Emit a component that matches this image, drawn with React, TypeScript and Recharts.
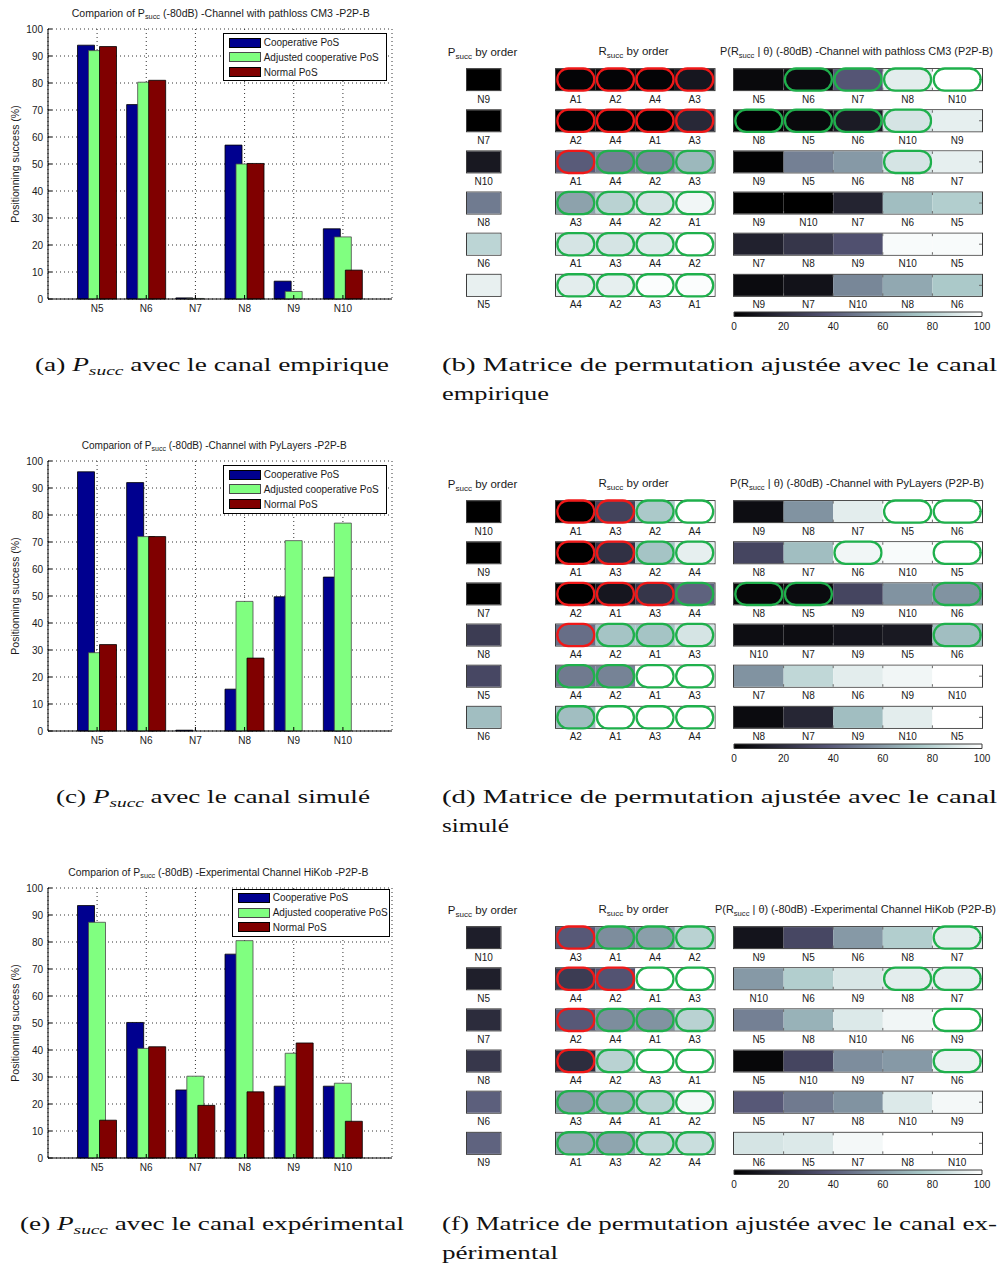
import React from 'react';
import { BarChart, Bar, XAxis, YAxis, CartesianGrid, Legend } from 'recharts';

// ---------------- data ----------------
const NODES = ['N5', 'N6', 'N7', 'N8', 'N9', 'N10'];
const SERIES_NAMES = ['Cooperative PoS', 'Adjusted cooperative PoS', 'Normal PoS'];
const Y_TICKS = [0, 10, 20, 30, 40, 50, 60, 70, 80, 90, 100];
const CB_TICKS = [0, 20, 40, 60, 80, 100];

// (a) empirical channel
const A_COOP = [94, 72, 0.4, 57, 6.6, 26];
const A_ADJ = [92, 80.3, 0.2, 50, 2.8, 23];
const A_NORMAL = [93.5, 81, 0, 50.2, 0, 10.7];
// (c) simulated channel
const C_COOP = [96, 92, 0.3, 15.5, 49.7, 57];
const C_ADJ = [29, 72, 0, 48, 70.5, 77];
const C_NORMAL = [32, 72, 0, 27, 0, 0];
// (e) experimental channel
const E_COOP = [93.5, 50.2, 25.2, 75.5, 26.6, 26.6];
const E_ADJ = [87.3, 40.6, 30.3, 80.5, 38.8, 27.7];
const E_NORMAL = [14, 41.2, 19.5, 24.5, 42.6, 13.6];

const BAR_TITLES = ['-Channel with pathloss CM3 -P2P-B', '-Channel with PyLayers -P2P-B', '-Experimental Channel HiKob -P2P-B'];
const MATRIX_TITLES = ['-Channel with pathloss CM3 (P2P-B)', '-Channel with PyLayers (P2P-B)', '-Experimental Channel HiKob (P2P-B)'];

// (b) permutation matrix, empirical
const B_P_LABELS = ['N9', 'N7', 'N10', 'N8', 'N6', 'N5'];
const B_P_VALUES = [0, 0, 10.7, 50.2, 81, 93.5];
const B_R_LABELS = [['A1', 'A2', 'A4', 'A3'], ['A2', 'A4', 'A1', 'A3'], ['A1', 'A4', 'A2', 'A3'], ['A3', 'A4', 'A2', 'A1'], ['A1', 'A3', 'A4', 'A2'], ['A4', 'A2', 'A3', 'A1']];
const B_R_VALUES = [[2, 2, 2, 10], [1, 1, 1, 18], [40, 52, 55, 70], [63, 80, 88, 96], [88, 88, 91, 100], [92, 93, 99, 99]];
const B_R_MARKS = ['rrrr', 'rrrr', 'rggg', 'gggg', 'gggg', 'gggg'];
const B_T_LABELS = [['N5', 'N6', 'N7', 'N8', 'N10'], ['N8', 'N5', 'N6', 'N10', 'N9'], ['N9', 'N5', 'N6', 'N8', 'N7'], ['N9', 'N10', 'N7', 'N6', 'N5'], ['N7', 'N8', 'N9', 'N10', 'N5'], ['N9', 'N7', 'N10', 'N8', 'N6']];
const B_T_VALUES = [[4, 5, 38, 92, 100], [1, 4, 12, 88, 93], [1, 52, 60, 88, 93], [0, 0, 16, 72, 78], [15, 24, 36, 98, 98], [5, 8, 54, 65, 76]];
const B_T_MARKS = ['.gggg', 'gggg.', '...g.', '.....', '.....', '.....'];

// (d) permutation matrix, simulated
const D_P_LABELS = ['N10', 'N9', 'N7', 'N8', 'N5', 'N6'];
const D_P_VALUES = [0, 0, 0, 27, 32, 72];
const D_R_LABELS = [['A1', 'A3', 'A2', 'A4'], ['A1', 'A3', 'A2', 'A4'], ['A2', 'A1', 'A3', 'A4'], ['A4', 'A2', 'A1', 'A3'], ['A4', 'A2', 'A1', 'A3'], ['A2', 'A1', 'A3', 'A4']];
const D_R_VALUES = [[0, 30, 76, 100], [0, 22, 74, 93], [0, 10, 24, 42], [46, 74, 74, 88], [50, 53, 100, 100], [72, 100, 100, 100]];
const D_R_MARKS = ['rrgg', 'rrgg', 'rrrg', 'rggg', 'gggg', 'gggg'];
const D_T_LABELS = [['N9', 'N8', 'N7', 'N5', 'N6'], ['N8', 'N7', 'N6', 'N10', 'N5'], ['N8', 'N5', 'N9', 'N10', 'N6'], ['N10', 'N7', 'N9', 'N5', 'N6'], ['N7', 'N8', 'N6', 'N9', 'N10'], ['N8', 'N7', 'N9', 'N10', 'N5']];
const D_T_VALUES = [[6, 58, 92, 100, 100], [31, 72, 96, 98, 100], [3, 5, 31, 58, 58], [6, 6, 9, 11, 72], [58, 82, 92, 96, 100], [5, 17, 72, 92, 100]];
const D_T_MARKS = ['...gg', '..g.g', 'gg..g', '....g', '.....', '.....'];

// (f) permutation matrix, experimental
const F_P_LABELS = ['N10', 'N5', 'N7', 'N8', 'N6', 'N9'];
const F_P_VALUES = [13.6, 14, 19.5, 24.5, 41.2, 42.6];
const F_R_LABELS = [['A3', 'A1', 'A4', 'A2'], ['A4', 'A2', 'A1', 'A3'], ['A2', 'A4', 'A1', 'A3'], ['A4', 'A2', 'A3', 'A1'], ['A3', 'A4', 'A1', 'A2'], ['A1', 'A3', 'A2', 'A4']];
const F_R_VALUES = [[39, 56, 62, 80], [27, 37, 100, 100], [39, 56, 58, 80], [20, 80, 100, 100], [62, 68, 80, 97], [66, 64, 82, 85]];
const F_R_MARKS = ['rggg', 'rrgg', 'rggg', 'rggg', 'gggg', 'gggg'];
const F_T_LABELS = [['N9', 'N5', 'N6', 'N8', 'N7'], ['N10', 'N6', 'N9', 'N8', 'N7'], ['N5', 'N8', 'N10', 'N6', 'N9'], ['N5', 'N10', 'N9', 'N7', 'N6'], ['N5', 'N7', 'N8', 'N10', 'N9'], ['N6', 'N5', 'N7', 'N8', 'N10']];
const F_T_VALUES = [[9, 32, 60, 78, 92], [60, 78, 89, 92, 93], [52, 68, 90, 96, 100], [3, 31, 56, 60, 94], [39, 50, 58, 90, 97], [88, 90, 97, 100, 100]];
const F_T_MARKS = ['....g', '...gg', '....g', '....g', '.....', '.....'];

// ---------------- styles ----------------
const FONT = '"Liberation Sans", Arial, Helvetica, sans-serif';
const SERIF = '"Liberation Serif", "Times New Roman", serif';
const TXT = '#1a1a1a';
const SERIES_COLORS = ['#00008f', '#80ff80', '#800000'];
const SERIES_STROKES = ['#000000', '#4a4a4a', '#000000'];
const RED = '#f01818';
const GREEN = '#1fb04c';

function bone(v: number): string {
  const x = Math.max(0, Math.min(1, v / 100));
  const hr = Math.min(1, x / 0.375);
  const hg = x < 0.375 ? 0 : Math.min(1, (x - 0.375) / 0.375);
  const hb = x < 0.75 ? 0 : (x - 0.75) / 0.25;
  const r = (7 * x + hb) / 8;
  const g = (7 * x + hg) / 8;
  const b = (7 * x + hr) / 8;
  return `rgb(${Math.round(r * 255)},${Math.round(g * 255)},${Math.round(b * 255)})`;
}

// ---------------- bar chart ----------------
function LegendBox() {
  return (
    <div style={{ boxSizing: 'border-box', width: '100%', height: '100%', border: '1px solid #000', background: '#fff', padding: '1px 0 0 5px', fontFamily: FONT, fontSize: 10, color: TXT }}>
      {SERIES_NAMES.map((n, i) => (
        <div key={n} style={{ display: 'flex', alignItems: 'center', height: 14.7 }}>
          <span style={{ display: 'inline-block', boxSizing: 'border-box', width: 32, height: 10, background: SERIES_COLORS[i], border: `1px solid ${SERIES_STROKES[i]}`, marginRight: 3 }} />
          <span style={{ lineHeight: '11px', whiteSpace: 'nowrap' }}>{n}</span>
        </div>
      ))}
    </div>
  );
}

function PsuccChart(props: { top: number; coop: number[]; adj: number[]; normal: number[]; legend: { left: number; top: number; width: number; height: number } }) {
  const { top, coop, adj, normal, legend } = props;
  const data = NODES.map((n, i) => ({ name: n, coop: coop[i], adj: adj[i], normal: normal[i] }));
  const tickStyle = { fontSize: 10, fill: TXT, fontFamily: FONT };
  return (
    <div style={{ position: 'absolute', left: 0, top }}>
      <BarChart width={400} height={320} data={data} margin={{ top: 29, right: 8, bottom: 1, left: 0 }} barGap={-6}>
        <CartesianGrid stroke="#333" strokeDasharray="1 3" />
        <XAxis dataKey="name" padding={{ left: 24.5, right: 24.5 }} interval={0} height={20}
          tickLine={{ stroke: '#000' }} tickSize={-4} tickMargin={10} axisLine={{ stroke: '#000' }} tick={tickStyle} />
        <XAxis xAxisId="top" orientation="top" dataKey="name" padding={{ left: 24.5, right: 24.5 }} interval={0} height={0}
          tick={false} tickLine={{ stroke: '#000' }} tickSize={-4} axisLine={{ stroke: '#000' }} />
        <YAxis domain={[0, 100]} ticks={Y_TICKS} interval={0} width={48} tickLine={{ stroke: '#000' }} tickSize={-4} tickMargin={9}
          axisLine={{ stroke: '#000' }} tick={tickStyle}
          label={{ value: 'Positionning success (%)', angle: -90, position: 'insideLeft', offset: 15, style: { textAnchor: 'middle', fontSize: 10.5, fill: TXT, fontFamily: FONT } }} />
        <YAxis yAxisId="right" orientation="right" domain={[0, 100]} ticks={Y_TICKS} interval={0} width={0} tick={false}
          tickLine={{ stroke: '#000' }} tickSize={-4} axisLine={{ stroke: '#000' }} />
        <Bar dataKey="coop" name={SERIES_NAMES[0]} fill={SERIES_COLORS[0]} stroke={SERIES_STROKES[0]} strokeWidth={0.8} barSize={17} isAnimationActive={false} />
        <Bar dataKey="adj" name={SERIES_NAMES[1]} fill={SERIES_COLORS[1]} stroke={SERIES_STROKES[1]} strokeWidth={0.8} barSize={17} isAnimationActive={false} />
        <Bar dataKey="normal" name={SERIES_NAMES[2]} fill={SERIES_COLORS[2]} stroke={SERIES_STROKES[2]} strokeWidth={0.8} barSize={17} isAnimationActive={false} />
        <Legend layout="vertical" align="center" verticalAlign="middle" content={() => <LegendBox />}
          wrapperStyle={{ left: legend.left, top: legend.top, width: legend.width, height: legend.height }} />
      </BarChart>
    </div>
  );
}

// ---------------- matrix strips ----------------
const ROW_PITCH = 41.15;
const CELL_H = 21;
const PLOT_TOP = 59.1;
const STRIP_H = 320;

function CellShape(props: any) {
  const { x, y, width, height, j, n, labels, values, marks, ticks } = props;
  const i = props.payload && props.payload.row !== undefined ? props.payload.row : props.index;
  const mark = marks[i] ? marks[i][j] : '.';
  const col = mark === 'r' ? RED : mark === 'g' ? GREEN : null;
  const tk = '#6a6a6a';
  return (
    <g>
      {j === 0 && (
        <rect x={x - 0.5} y={y - 0.5} width={width * n + 1} height={height + 1} fill="none" stroke="#3c3c3c" strokeWidth={1} />
      )}
      <rect x={x} y={y} width={width} height={height} fill={bone(values[i][j])} />
      {ticks && j > 0 && <line x1={x} x2={x} y1={y} y2={y + 2.5} stroke={tk} />}
      {ticks && j > 0 && <line x1={x} x2={x} y1={y + height - 2.5} y2={y + height} stroke={tk} />}
      {ticks && j === n - 1 && <line x1={x + width - 3} x2={x + width} y1={y + height / 2} y2={y + height / 2} stroke={tk} />}
      {col && (
        <rect x={x + 1.3} y={y - 0.6} width={width - 2.6} height={height + 1.2} rx={(height + 1.2) / 2} ry={(height + 1.2) / 2}
          fill="none" stroke={col} strokeWidth={2.3} />
      )}
      <text x={x + width / 2} y={y + height + 12.5} textAnchor="middle" fontSize={10} fill={TXT} fontFamily={FONT}>{labels[i][j]}</text>
    </g>
  );
}

function Strip(props: { left: number; width: number; top: number; labels: string[][]; values: number[][]; marks: string[]; ticks?: boolean }) {
  const { left, width, top, labels, values, marks, ticks } = props;
  const n = labels[0].length;
  const data = labels.map((row, i) => {
    const o: any = { row: i };
    row.forEach((_, j) => { o['c' + j] = 1; });
    return o;
  });
  const pad = 4;
  const plotH = labels.length * ROW_PITCH;
  return (
    <div style={{ position: 'absolute', left: left - pad, top }}>
      <BarChart width={width + 2 * pad} height={STRIP_H} data={data} layout="vertical"
        margin={{ top: PLOT_TOP, bottom: STRIP_H - PLOT_TOP - plotH, left: pad, right: pad }}>
        <XAxis type="number" domain={[0, n]} hide />
        <YAxis type="category" dataKey="row" hide />
        {labels[0].map((_, j) => (
          <Bar key={j} dataKey={'c' + j} stackId="s" barSize={CELL_H} isAnimationActive={false}
            shape={(p: any) => <CellShape {...p} j={j} n={n} labels={labels} values={values} marks={marks} ticks={!!ticks} />} />
        ))}
      </BarChart>
    </div>
  );
}

function ColorBar(props: { top: number; id: string }) {
  const { top, id } = props;
  const pad = 12;
  const stops = [0, 37.5, 75, 100];
  return (
    <div style={{ position: 'absolute', left: 734 - pad, top }}>
      <BarChart width={248 + 2 * pad} height={30} data={[{ name: 'cb', v: 100 }]} layout="vertical"
        margin={{ top: 7, bottom: 0, left: pad, right: pad }}>
        <defs>
          <linearGradient id={id} x1="0" x2="1" y1="0" y2="0">
            {stops.map((s) => <stop key={s} offset={`${s}%`} stopColor={bone(s)} />)}
          </linearGradient>
        </defs>
        <XAxis type="number" domain={[0, 100]} ticks={CB_TICKS} interval={0} height={18} tickLine={false} axisLine={false}
          tickSize={0} tickMargin={6} tick={{ fontSize: 10, fill: TXT, fontFamily: FONT }} />
        <YAxis type="category" dataKey="name" hide />
        <Bar dataKey="v" fill={`url(#${id})`} stroke="#3c3c3c" strokeWidth={1} barSize={5} isAnimationActive={false} />
      </BarChart>
    </div>
  );
}

function MatrixPanel(props: { off: number; k: number; pl: string[]; pv: number[]; rl: string[][]; rv: number[][]; rm: string[]; tl: string[][]; tv: number[][]; tm: string[] }) {
  const { off, k, pl, pv, rl, rv, rm, tl, tv, tm } = props;
  return (
    <>
      <Strip left={466.5} width={33.5} top={off} labels={pl.map((l) => [l])} values={pv.map((v) => [v])} marks={pl.map(() => '.')} />
      <Strip left={555.5} width={158.5} top={off} labels={rl} values={rv} marks={rm} />
      <Strip left={734} width={248} top={off} labels={tl} values={tv} marks={tm} ticks />
      <ColorBar top={305 + off} id={`bone${k}`} />
    </>
  );
}

// ---------------- texts ----------------
function BarTitle(props: { x: number; len: number; y: number; rest: string }) {
  const { x, len, y, rest } = props;
  return (
    <text x={x} y={y} fontSize={10} fill={TXT} fontFamily={FONT} textLength={len} lengthAdjust="spacingAndGlyphs">
      Comparion of P<tspan fontSize={7} dy={2.5}>succ</tspan><tspan dy={-2.5}>{' (-80dB) ' + rest}</tspan>
    </text>
  );
}

function MatrixTitles(props: { off: number; x: number; len: number; rest: string }) {
  const { off, x, len, rest } = props;
  return (
    <g fontSize={10} fill={TXT} fontFamily={FONT}>
      <text x={447.8} y={56 + off} textLength={69.5} lengthAdjust="spacingAndGlyphs">
        P<tspan fontSize={7} dy={2.5}>succ</tspan><tspan dy={-2.5}> by order</tspan>
      </text>
      <text x={598.5} y={55 + off} textLength={70.2} lengthAdjust="spacingAndGlyphs">
        R<tspan fontSize={7} dy={2.5}>succ</tspan><tspan dy={-2.5}> by order</tspan>
      </text>
      <text x={x} y={55 + off} textLength={len} lengthAdjust="spacingAndGlyphs">
        P(R<tspan fontSize={7} dy={2.5}>succ</tspan><tspan dy={-2.5}>{' | \u03B8) (-80dB) ' + rest}</tspan>
      </text>
    </g>
  );
}

function LeftCaption(props: { letter: string; x: number; len: number; y: number; rest: string }) {
  const { letter, x, len, y, rest } = props;
  return (
    <text x={x} y={y} fontSize={19} fill="#111" fontFamily={SERIF} textLength={len} lengthAdjust="spacingAndGlyphs">
      {`(${letter}) `}<tspan fontStyle="italic">P</tspan><tspan fontStyle="italic" fontSize={13.5} dy={4}>succ</tspan><tspan dy={-4}>{' ' + rest}</tspan>
    </text>
  );
}

function RightCaption(props: { y: number; l1: string; l2: string; len2: number }) {
  const { y, l1, l2, len2 } = props;
  return (
    <g fontSize={19} fill="#111" fontFamily={SERIF}>
      <text x={442} y={y} textLength={555} lengthAdjust="spacingAndGlyphs">{l1}</text>
      <text x={442} y={y + 29} textLength={len2} lengthAdjust="spacingAndGlyphs">{l2}</text>
    </g>
  );
}

export default function App() {
  return (
    <div style={{ position: 'absolute', left: 0, top: 0, width: 997, height: 1266, background: '#fff', fontFamily: FONT, overflow: 'hidden' }}>
      <PsuccChart top={0} coop={A_COOP} adj={A_ADJ} normal={A_NORMAL} legend={{ left: 222.7, top: 33.3, width: 164, height: 47.7 }} />
      <PsuccChart top={432} coop={C_COOP} adj={C_ADJ} normal={C_NORMAL} legend={{ left: 222.7, top: 33.3, width: 164, height: 49 }} />
      <PsuccChart top={859} coop={E_COOP} adj={E_ADJ} normal={E_NORMAL} legend={{ left: 231.7, top: 29.5, width: 158.5, height: 48 }} />

      <MatrixPanel off={0} k={0} pl={B_P_LABELS} pv={B_P_VALUES} rl={B_R_LABELS} rv={B_R_VALUES} rm={B_R_MARKS} tl={B_T_LABELS} tv={B_T_VALUES} tm={B_T_MARKS} />
      <MatrixPanel off={432} k={1} pl={D_P_LABELS} pv={D_P_VALUES} rl={D_R_LABELS} rv={D_R_VALUES} rm={D_R_MARKS} tl={D_T_LABELS} tv={D_T_VALUES} tm={D_T_MARKS} />
      <MatrixPanel off={858} k={2} pl={F_P_LABELS} pv={F_P_VALUES} rl={F_R_LABELS} rv={F_R_VALUES} rm={F_R_MARKS} tl={F_T_LABELS} tv={F_T_VALUES} tm={F_T_MARKS} />

      <svg width={997} height={1266} style={{ position: 'absolute', left: 0, top: 0, pointerEvents: 'none' }}>
        <BarTitle x={71.7} len={298} y={16.7} rest={BAR_TITLES[0]} />
        <BarTitle x={81.7} len={265} y={16.7 + 432} rest={BAR_TITLES[1]} />
        <BarTitle x={68.3} len={300} y={16.7 + 859} rest={BAR_TITLES[2]} />

        <MatrixTitles off={0} x={720} len={273} rest={MATRIX_TITLES[0]} />
        <MatrixTitles off={432} x={730} len={254} rest={MATRIX_TITLES[1]} />
        <MatrixTitles off={858} x={715} len={281} rest={MATRIX_TITLES[2]} />

        <LeftCaption letter="a" x={35} len={354} y={371} rest="avec le canal empirique" />
        <LeftCaption letter="c" x={56} len={314} y={803} rest="avec le canal simulé" />
        <LeftCaption letter="e" x={20} len={384} y={1230} rest="avec le canal expérimental" />

        <RightCaption y={371} l1="(b) Matrice de permutation ajustée avec le canal" l2="empirique" len2={107} />
        <RightCaption y={803} l1="(d) Matrice de permutation ajustée avec le canal" l2="simulé" len2={67} />
        <RightCaption y={1230} l1="(f) Matrice de permutation ajustée avec le canal ex-" l2="périmental" len2={116} />
      </svg>
    </div>
  );
}
